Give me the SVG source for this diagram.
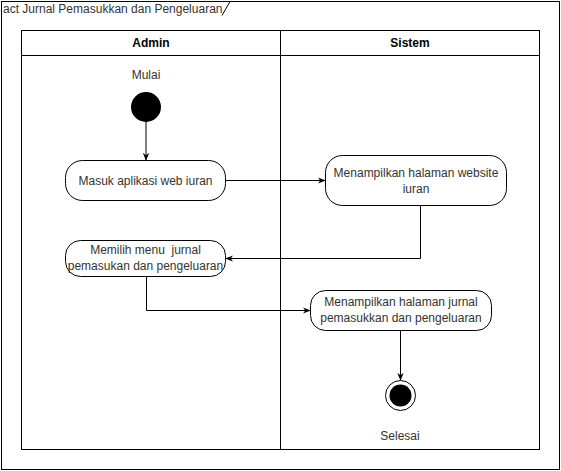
<svg xmlns="http://www.w3.org/2000/svg" width="561" height="471" viewBox="0 0 561 471">
<defs>
<marker id="arr" viewBox="0 0 10 10" refX="9" refY="5" markerWidth="8" markerHeight="8" markerUnits="userSpaceOnUse" orient="auto">
<path d="M0,1 L10,5 L0,9 L3,5 Z" fill="#000"/>
</marker>
<style>
text{font-family:"Liberation Sans",Arial,sans-serif;font-size:12px;fill:#333;white-space:pre}
.hd{font-weight:bold;fill:#000}
.box{fill:#fff;stroke:#000;stroke-width:1}
.ln{fill:none;stroke:#000;stroke-width:1}
.cn{fill:none;stroke:#000;stroke-width:1;marker-end:url(#arr)}
</style>
</defs>
<rect width="561" height="471" fill="#fff"/>
<g id="frame">
<rect class="ln" x="1.5" y="1.5" width="558" height="468"/>
<path class="ln" d="M222,15.5 L230,1.5"/>
<text x="3" y="13" text-anchor="start">act Jurnal Pemasukkan dan Pengeluaran</text>
</g>
<g id="pool">
<rect class="ln" x="21.5" y="30.5" width="518" height="419"/>
<line class="ln" x1="21.5" y1="55.5" x2="539.5" y2="55.5"/>
<line class="ln" x1="280.5" y1="30.5" x2="280.5" y2="449.5"/>
<text class="hd" x="151" y="47" text-anchor="middle">Admin</text>
<text class="hd" x="410" y="47" text-anchor="middle">Sistem</text>
</g>
<g id="connectors">
<path class="cn" d="M146,121 L146,160"/>
<path class="cn" d="M225,180.5 L325,180.5"/>
<path class="cn" d="M420.5,206 L420.5,258.5 L226,258.5"/>
<path class="cn" d="M146.5,277 L146.5,310.5 L310,310.5"/>
<path class="cn" d="M400.5,330 L400.5,380"/>
</g>
<g id="start">
<text x="146" y="79" text-anchor="middle">Mulai</text>
<circle cx="146" cy="107" r="15" fill="#000"/>
</g>
<g id="masuk">
<rect class="box" x="65.5" y="160.5" width="160" height="40" rx="17"/>
<text x="145.5" y="185" text-anchor="middle">Masuk aplikasi web iuran</text>
</g>
<g id="tampil-web">
<rect class="box" x="325.5" y="155.5" width="181" height="50" rx="17"/>
<text x="416" y="177" text-anchor="middle">Menampilkan halaman website</text>
<text x="416" y="193" text-anchor="middle">iuran</text>
</g>
<g id="memilih">
<rect class="box" x="65.5" y="240.5" width="160" height="36" rx="15"/>
<text x="145.5" y="254" text-anchor="middle" xml:space="preserve">Memilih menu  jurnal</text>
<text x="145.5" y="270" text-anchor="middle">pemasukan dan pengeluaran</text>
</g>
<g id="tampil-jurnal">
<rect class="box" x="310.5" y="290.5" width="181" height="40" rx="15"/>
<text x="401" y="306" text-anchor="middle">Menampilkan halaman jurnal</text>
<text x="401" y="322" text-anchor="middle">pemasukkan dan pengeluaran</text>
</g>
<g id="end">
<circle cx="400.5" cy="395.5" r="15" fill="#fff" stroke="#000" stroke-width="1"/>
<circle cx="400.5" cy="395.5" r="11" fill="#000"/>
<text x="400" y="440" text-anchor="middle">Selesai</text>
</g>
</svg>
